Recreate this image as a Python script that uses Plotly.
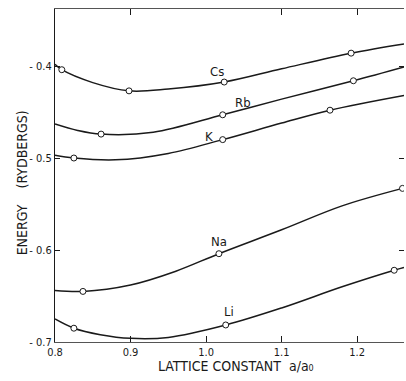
import plotly.graph_objects as go

# Curves
cs_x = [0.80, 0.809, 0.85, 0.898, 0.95, 1.024, 1.10, 1.192, 1.262]
cs_y = [-0.398, -0.404, -0.418, -0.427, -0.425, -0.4174, -0.403, -0.386, -0.376]
rb_x = [0.80, 0.83, 0.861, 0.93, 1.022, 1.10, 1.195, 1.262]
rb_y = [-0.463, -0.470, -0.474, -0.472, -0.453, -0.436, -0.416, -0.401]
k_x = [0.80, 0.825, 0.88, 0.95, 1.022, 1.10, 1.164, 1.262]
k_y = [-0.497, -0.500, -0.502, -0.495, -0.480, -0.462, -0.448, -0.432]
na_x = [0.80, 0.837, 0.90, 0.96, 1.017, 1.10, 1.18, 1.26]
na_y = [-0.644, -0.645, -0.638, -0.623, -0.604, -0.578, -0.552, -0.533]
li_x = [0.80, 0.825, 0.86, 0.90, 0.95, 1.026, 1.10, 1.18, 1.249, 1.262]
li_y = [-0.675, -0.685, -0.692, -0.696, -0.695, -0.6815, -0.663, -0.640, -0.622, -0.619]

# Marked (circle) points
cs_mx = [0.809, 0.898, 1.024, 1.192]
cs_my = [-0.404, -0.427, -0.4174, -0.386]
rb_mx = [0.861, 1.022, 1.195]
rb_my = [-0.474, -0.453, -0.416]
k_mx = [0.825, 1.022, 1.164]
k_my = [-0.500, -0.480, -0.448]
na_mx = [0.837, 1.017, 1.26]
na_my = [-0.645, -0.604, -0.533]
li_mx = [0.825, 1.026, 1.249]
li_my = [-0.685, -0.6815, -0.622]

labels = ["Cs", "Rb", "K", "Na", "Li"]
label_x = [1.0146, 1.049, 1.004, 1.017, 1.030]
label_y = [-0.4054, -0.440, -0.477, -0.591, -0.667]

x_ticks = [0.8, 0.9, 1.0, 1.1, 1.2]
x_tick_text = ["0.8", "0.9", "1.0", "1.1", "1.2"]
y_ticks = [-0.4, -0.5, -0.6, -0.7]
y_tick_text = ["- 0.4", "- 0.5", "- 0.6", "- 0.7"]

FONT = "DejaVu Sans Condensed, Liberation Sans Narrow, Arial, sans-serif"
INK = "#1a1a1a"

fig = go.Figure()
curves = [(cs_x, cs_y), (rb_x, rb_y), (k_x, k_y), (na_x, na_y), (li_x, li_y)]
marks = [(cs_mx, cs_my), (rb_mx, rb_my), (k_mx, k_my), (na_mx, na_my), (li_mx, li_my)]
for (cx, cy) in curves:
    fig.add_trace(go.Scatter(x=cx, y=cy, mode="lines",
                             line=dict(color=INK, width=1.5, shape="spline", smoothing=1.0),
                             hoverinfo="skip", showlegend=False))
for (mx, my) in marks:
    fig.add_trace(go.Scatter(x=mx, y=my, mode="markers",
                             marker=dict(symbol="circle", size=6, color="white",
                                         line=dict(color=INK, width=1)),
                             showlegend=False))

for t, lx, ly in zip(labels, label_x, label_y):
    fig.add_annotation(x=lx, y=ly, text=t, showarrow=False,
                       font=dict(family=FONT, size=13, color=INK))

# axis titles as annotations
fig.add_annotation(xref="paper", yref="paper", x=-0.094, y=0.477, textangle=-90,
                   xanchor="center", yanchor="middle",
                   text="ENERGY\u00a0\u00a0\u00a0\u00a0(RYDBERGS)", showarrow=False,
                   font=dict(family=FONT, size=14, color=INK))
fig.add_annotation(xref="paper", yref="paper", x=0.52, y=-0.072,
                   xanchor="center", yanchor="middle",
                   text="LATTICE CONSTANT\u00a0\u00a0a/a\u2080", showarrow=False,
                   font=dict(family=FONT, size=14, color=INK))

fig.update_layout(
    width=406, height=381,
    margin=dict(l=55, r=2, t=9, b=39),
    paper_bgcolor="white", plot_bgcolor="white",
    font=dict(family=FONT, color=INK),
    xaxis=dict(range=[0.8, 1.262], tickvals=x_ticks, ticktext=x_tick_text,
               ticks="inside", ticklen=6, tickcolor=INK, showgrid=False, zeroline=False,
               showline=True, linecolor="#555", linewidth=1,
               tickfont=dict(size=11)),
    xaxis2=dict(range=[0.8, 1.262], overlaying="x", side="top", tickvals=[0.9, 1.1, 1.2],
                showticklabels=False, ticks="inside", ticklen=6, tickcolor=INK,
                showline=True, linecolor="#555", linewidth=1, showgrid=False, zeroline=False),
    yaxis=dict(range=[-0.7, -0.338], tickvals=y_ticks, ticktext=y_tick_text,
               ticks="inside", ticklen=5, tickcolor=INK, showgrid=False, zeroline=False,
               showline=True, linecolor=INK, linewidth=1.2,
               tickfont=dict(size=11)),
    yaxis2=dict(range=[-0.7, -0.338], overlaying="y", side="right", tickvals=[-0.4, -0.5, -0.6],
                showticklabels=False, ticks="inside", ticklen=5, tickcolor=INK,
                showline=False, showgrid=False, zeroline=False),
)
fig.add_trace(go.Scatter(x=[0.8], y=[-0.7], xaxis="x2", yaxis="y2", mode="markers",
                         marker=dict(opacity=0), hoverinfo="skip", showlegend=False))

fig.write_html("out.html")
